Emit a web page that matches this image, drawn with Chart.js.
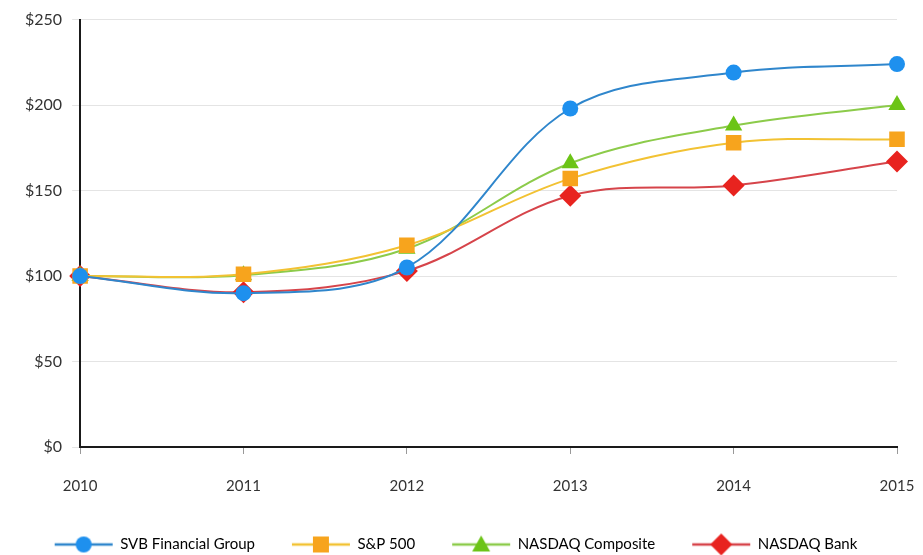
<!DOCTYPE html>
<html>
<head>
<meta charset="utf-8">
<script src="https://cdn.jsdelivr.net/npm/chart.js@4/dist/chart.umd.min.js"></script>
<style>
  html, body { margin: 0; padding: 0; background: #fff; }
  #wrap { width: 923px; height: 555px; position: relative; }
</style>
</head>
<body>
<div id="wrap"><canvas id="perfChart"></canvas></div>
<script>
"use strict";

// ── Data ──────────────────────────────────────────────────
const years      = ["2010", "2011", "2012", "2013", "2014", "2015"];
const svb        = [100, 90, 105, 198, 219, 224];
const sp500      = [100, 101, 118, 157, 178, 180];
const nasdaqComp = [100, 100.5, 116, 166, 188, 200];
const nasdaqBank = [100, 90.5, 103, 147, 153, 167];
const yTicks     = [0, 50, 100, 150, 200, 250];

// ── Legend swatch: a short line with the marker in the middle ──
function swatch(lineColor, fillColor, style) {
  const c = document.createElement("canvas");
  c.width = 60; c.height = 24;
  const g = c.getContext("2d");
  g.strokeStyle = lineColor;
  g.lineWidth = 2.5;
  g.beginPath(); g.moveTo(1, 12); g.lineTo(59, 12); g.stroke();
  g.fillStyle = fillColor;
  g.beginPath();
  if (style === "circle") {
    g.arc(30, 12, 8, 0, Math.PI * 2);
  } else if (style === "rect") {
    g.rect(22, 4, 16, 16);
  } else if (style === "triangle") {
    g.moveTo(30, 3); g.lineTo(39, 19); g.lineTo(21, 19); g.closePath();
  } else {
    g.moveTo(30, 1); g.lineTo(41, 12); g.lineTo(30, 23); g.lineTo(19, 12); g.closePath();
  }
  g.fill();
  return c;
}

const series = [
  { label: "SVB Financial Group", data: svb,        line: "#2f86cc", fill: "#1e90ee", style: "circle",   r: 8  },
  { label: "S&P 500",             data: sp500,      line: "#f2c233", fill: "#f7a41d", style: "rect",     r: 11 },
  { label: "NASDAQ Composite",    data: nasdaqComp, line: "#8ccb4a", fill: "#6cc417", style: "triangle", r: 10 },
  { label: "NASDAQ Bank",         data: nasdaqBank, line: "#d6444a", fill: "#e8231f", style: "rectRot",  r: 11 },
];

const datasets = series.map((s) => ({
  label: s.label,
  data: s.data,
  borderColor: s.line,
  backgroundColor: s.fill,
  borderWidth: 2,
  pointStyle: s.style,
  pointRadius: s.r,
  pointHoverRadius: s.r,
  pointBackgroundColor: s.fill,
  pointBorderColor: s.fill,
  pointBorderWidth: 0,
  tension: 0.35,
  fill: false,
  legendIcon: swatch(s.line, s.fill, s.style),
}));

const fmt = (v) => "$" + v;

new Chart(document.getElementById("perfChart"), {
  type: "line",
  data: { labels: years, datasets },
  options: {
    responsive: true,
    maintainAspectRatio: false,
    animation: false,
    layout: { padding: { left: 15, right: 26, top: 0, bottom: -7 } },
    plugins: {
      tooltip: { enabled: false },
      legend: {
        position: "bottom",
        labels: {
          usePointStyle: true,
          pointStyleWidth: 58,
          padding: 37,
          color: "#333",
          font: { family: "Lato", size: 15 },
          generateLabels: (chart) => chart.data.datasets.map((ds, i) => ({
            text: ds.label,
            pointStyle: ds.legendIcon,
            fillStyle: ds.backgroundColor,
            strokeStyle: ds.borderColor,
            lineWidth: 0,
            hidden: false,
            datasetIndex: i,
          })),
        },
      },
    },
    scales: {
      x: {
        offset: false,
        grid: { display: true, drawOnChartArea: false, tickLength: 7, color: "#999" },
        border: { display: true, color: "#1a1a1a", width: 2 },
        // empty first line pushes the year labels down like the original
        ticks: {
          padding: 5,
          color: "#333",
          font: { family: "Lato", size: 15 },
          callback: (v, i) => ["", years[i]],
        },
      },
      y: {
        min: 0,
        max: 250,
        afterBuildTicks: (axis) => { axis.ticks = yTicks.map((v) => ({ value: v })); },
        grid: { color: "#e4e4e4", tickLength: 8, lineWidth: 1 },
        border: { display: true, color: "#1a1a1a", width: 2 },
        ticks: { padding: 10, color: "#333", font: { family: "Lato", size: 16 }, callback: fmt },
      },
    },
  },
});
</script>
</body>
</html>
